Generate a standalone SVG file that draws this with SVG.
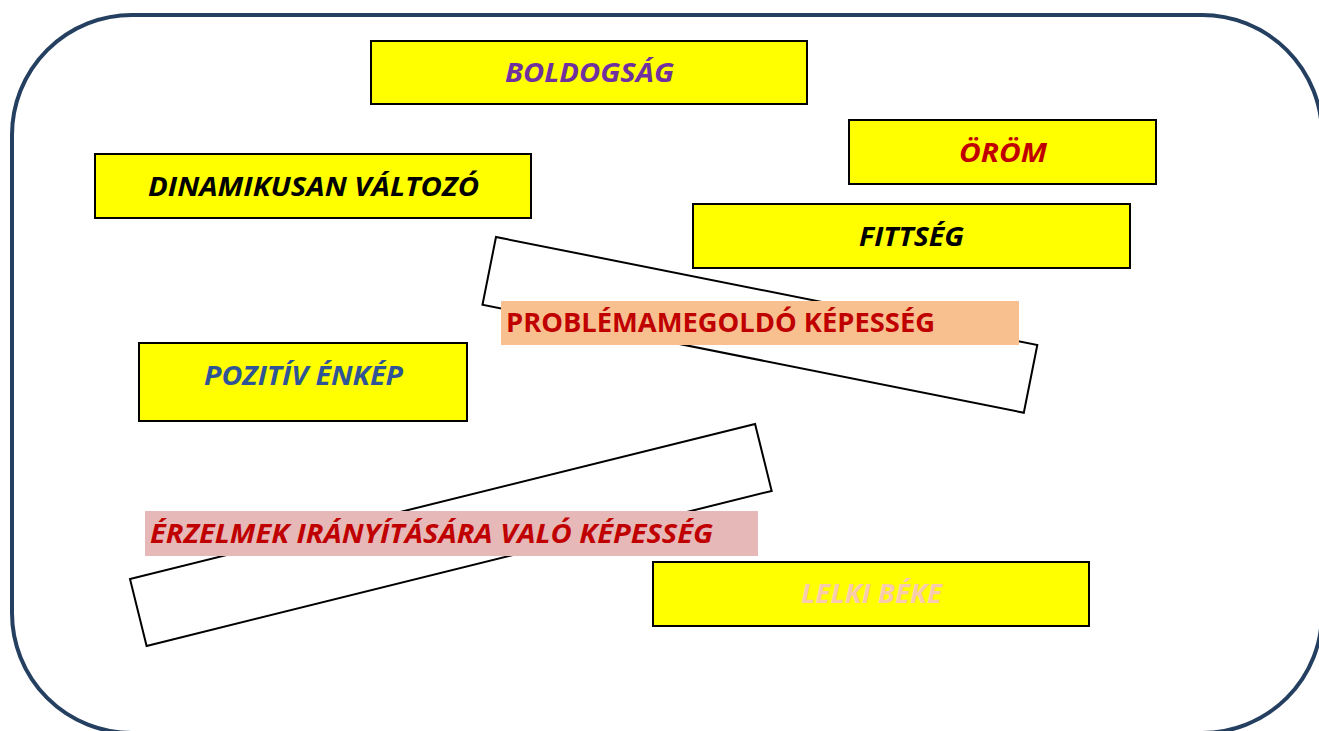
<svg xmlns="http://www.w3.org/2000/svg" width="1319" height="731" viewBox="0 0 1319 731">
  <style>
    .frame { fill: #ffffff; stroke: #243F60; stroke-width: 4; }
    .ybox { fill: #FFFF00; stroke: #000000; stroke-width: 2; }
    .rot { fill: #ffffff; stroke: #000000; stroke-width: 2; }
    .t { font-family: "Open Sans", "Liberation Sans", sans-serif; font-weight: bold; font-size: 27px; }
    .it { font-style: italic; }
    .mid { text-anchor: middle; }
  </style>
  <rect width="1319" height="731" fill="#ffffff"/>
  <rect class="frame" x="12" y="15" width="1310" height="718" rx="120" ry="120"/>

  <g id="connectors"/>

  <g id="node-boldogsag">
    <rect class="ybox" x="371" y="41" width="436" height="63"/>
    <text class="t it mid" x="589.5" y="82" fill="#7030A0" textLength="169" lengthAdjust="spacingAndGlyphs">BOLDOGSÁG</text>
  </g>

  <g id="node-orom">
    <rect class="ybox" x="849" y="120" width="307" height="64"/>
    <text class="t it mid" x="1003" y="161.5" fill="#C00000" textLength="88" lengthAdjust="spacingAndGlyphs">ÖRÖM</text>
  </g>

  <g id="node-dinamikusan">
    <rect class="ybox" x="95" y="154" width="436" height="64"/>
    <text class="t it mid" x="313.5" y="195.5" fill="#000000" textLength="331" lengthAdjust="spacingAndGlyphs">DINAMIKUSAN VÁLTOZÓ</text>
  </g>

  <g id="node-fittseg">
    <rect class="ybox" x="693" y="204" width="437" height="64"/>
    <text class="t it mid" x="911.5" y="245.5" fill="#000000" textLength="105" lengthAdjust="spacingAndGlyphs">FITTSÉG</text>
  </g>

  <g id="node-problemamegoldo">
    <rect class="rot" x="0" y="0" width="552" height="69" transform="translate(496 237) rotate(11.29)"/>
    <rect x="501" y="301" width="518" height="44" fill="#F8C08F"/>
    <text class="t" x="506" y="332" fill="#C00000" textLength="429" lengthAdjust="spacingAndGlyphs">PROBLÉMAMEGOLDÓ KÉPESSÉG</text>
  </g>

  <g id="node-pozitiv">
    <rect class="ybox" x="139" y="343" width="328" height="78"/>
    <text class="t it mid" x="303.5" y="385" fill="#2F5597" textLength="199" lengthAdjust="spacingAndGlyphs">POZITÍV ÉNKÉP</text>
  </g>

  <g id="node-erzelmek">
    <rect class="rot" x="0" y="0" width="644" height="69" transform="translate(130 579) rotate(-13.93)"/>
    <rect x="145" y="511" width="613" height="45" fill="#E6B8B7"/>
    <text class="t it" x="150" y="543" fill="#C00000" textLength="563" lengthAdjust="spacingAndGlyphs">ÉRZELMEK IRÁNYÍTÁSÁRA VALÓ KÉPESSÉG</text>
  </g>

  <g id="node-lelki">
    <rect class="ybox" x="653" y="562" width="436" height="64"/>
    <text class="t it mid" x="871.5" y="602.5" fill="#F8CBAD" textLength="141" lengthAdjust="spacingAndGlyphs">LELKI BÉKE</text>
  </g>
</svg>
